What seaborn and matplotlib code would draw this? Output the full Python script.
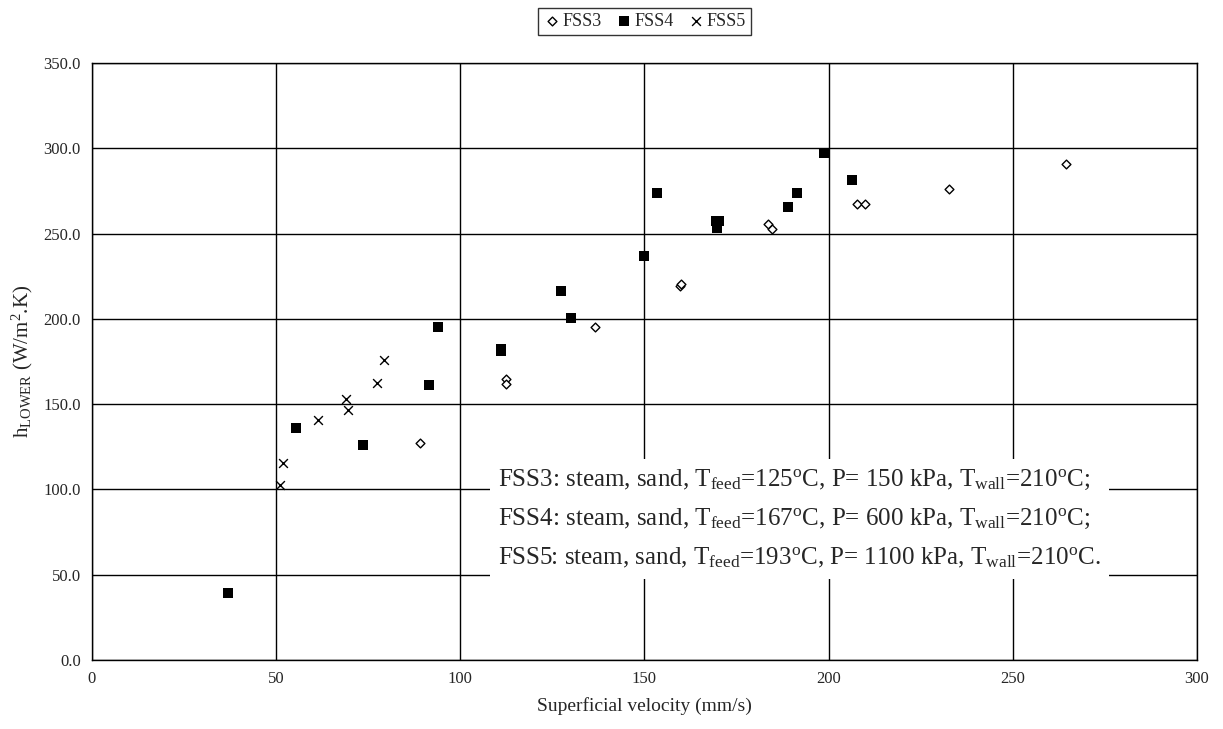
import matplotlib
matplotlib.use("Agg")
import matplotlib.pyplot as plt
import seaborn as sns
import pandas as pd

# FSS3 - open diamonds
fss3_x = [89.1, 112.4, 112.4, 136.6, 159.7, 159.9, 183.5, 184.7, 207.6, 209.9, 232.7, 264.4]
fss3_y = [127.0, 164.5, 161.8, 195.0, 219.4, 220.4, 255.4, 252.4, 267.1, 267.3, 275.9, 290.7]

# FSS4 - filled squares
fss4_x = [36.9, 55.4, 73.7, 91.6, 93.9, 111.0, 111.0, 127.3, 130.1, 149.9, 153.5,
          169.5, 170.3, 169.6, 189.1, 191.3, 198.7, 206.4]
fss4_y = [39.4, 136.0, 126.0, 161.2, 195.4, 182.5, 180.9, 216.1, 200.6, 236.8, 273.6,
          257.6, 257.3, 253.0, 265.3, 273.5, 297.0, 281.4]

# FSS5 - crosses
fss5_x = [51.0, 51.8, 61.3, 69.0, 69.6, 77.5, 79.4]
fss5_y = [102.6, 115.3, 140.7, 152.8, 146.5, 162.2, 175.9]

df3 = pd.DataFrame({"v": fss3_x, "h": fss3_y})
df4 = pd.DataFrame({"v": fss4_x, "h": fss4_y})
df5 = pd.DataFrame({"v": fss5_x, "h": fss5_y})

sns.set_style("white")
plt.rcParams["font.family"] = ["Liberation Serif", "DejaVu Serif"]
plt.rcParams["mathtext.fontset"] = "custom"
plt.rcParams["mathtext.rm"] = "Liberation Serif"
plt.rcParams["mathtext.it"] = "Liberation Serif:italic"

fig = plt.figure(figsize=(12.23, 7.29), dpi=100)
ax = fig.add_axes([0.0752, 0.0947, 0.9035, 0.8189])

sns.scatterplot(data=df3, x="v", y="h", marker="D", s=20, facecolor="white",
                edgecolor="black", linewidth=1.0, label="FSS3", ax=ax, zorder=3)
sns.scatterplot(data=df4, x="v", y="h", marker="s", s=42, color="black",
                edgecolor="black", linewidth=0, label="FSS4", ax=ax, zorder=3)
sns.scatterplot(data=df5, x="v", y="h", marker="x", s=40, color="black",
                linewidth=1.0, label="FSS5", ax=ax, zorder=3)

ax.set_xlim(0, 300)
ax.set_ylim(0, 350)
ax.set_xticks(range(0, 301, 50))
ax.set_yticks(range(0, 351, 50))
ax.set_yticklabels([f"{v:.1f}" for v in range(0, 351, 50)])
ax.grid(True, color="black", linewidth=1.0)
ax.set_axisbelow(True)
for sp in ax.spines.values():
    sp.set_color("black")
    sp.set_linewidth(1.0)
ax.tick_params(axis="both", direction="out", length=5, width=1, color="black",
               labelsize=12, pad=3)

ax.set_xlabel("Superficial velocity (mm/s)", fontsize=14, labelpad=7)
ax.set_ylabel(r"h$_{\mathrm{LOWER}}$ (W/m$^2$.K)", fontsize=15, labelpad=6)

leg = ax.legend(loc="upper center", bbox_to_anchor=(0.5, 1.108), ncol=3,
                fontsize=13, frameon=True, fancybox=False, handletextpad=0.1,
                columnspacing=0.7, borderpad=0.3, handlelength=1.0)
leg.get_frame().set_edgecolor("black")
leg.get_frame().set_linewidth(1.0)

note = (r"FSS3: steam, sand, T$_{\mathrm{feed}}$=125$^{\mathrm{o}}$C, P= 150 kPa, T$_{\mathrm{wall}}$=210$^{\mathrm{o}}$C;" "\n"
        r"FSS4: steam, sand, T$_{\mathrm{feed}}$=167$^{\mathrm{o}}$C, P= 600 kPa, T$_{\mathrm{wall}}$=210$^{\mathrm{o}}$C;" "\n"
        r"FSS5: steam, sand, T$_{\mathrm{feed}}$=193$^{\mathrm{o}}$C, P= 1100 kPa, T$_{\mathrm{wall}}$=210$^{\mathrm{o}}$C.")
ax.text(110.3, 82.5, note, fontsize=18, ha="left", va="center", linespacing=1.82,
        zorder=4, bbox=dict(facecolor="white", edgecolor="none", pad=6))

fig.savefig("out.png", dpi=100)
